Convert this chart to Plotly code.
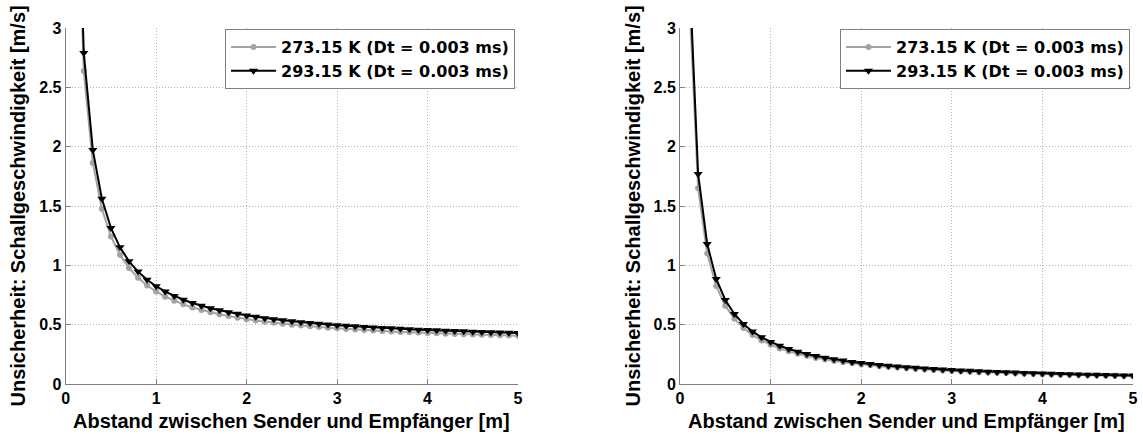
import plotly.graph_objects as go

# Distance between sender and receiver [m]
distance_m = [0.1, 0.2, 0.3, 0.4, 0.5, 0.6, 0.7, 0.8, 0.9, 1.0,
              1.1, 1.2, 1.3, 1.4, 1.5, 1.6, 1.7, 1.8, 1.9, 2.0,
              2.1, 2.2, 2.3, 2.4, 2.5, 2.6, 2.7, 2.8, 2.9, 3.0,
              3.1, 3.2, 3.3, 3.4, 3.5, 3.6, 3.7, 3.8, 3.9, 4.0,
              4.1, 4.2, 4.3, 4.4, 4.5, 4.6, 4.7, 4.8, 4.9, 5.0]

# Left panel
left_273 = [4.960, 2.637, 1.863, 1.475, 1.243, 1.089, 0.977, 0.895, 0.830, 0.779,
            0.736, 0.701, 0.671, 0.645, 0.624, 0.604, 0.587, 0.572, 0.558, 0.546,
            0.535, 0.524, 0.516, 0.507, 0.500, 0.492, 0.486, 0.480, 0.474, 0.469,
            0.464, 0.459, 0.455, 0.451, 0.446, 0.443, 0.439, 0.436, 0.433, 0.430,
            0.427, 0.424, 0.421, 0.420, 0.417, 0.415, 0.413, 0.410, 0.408, 0.406]
left_293 = [5.249, 2.790, 1.971, 1.561, 1.315, 1.152, 1.034, 0.947, 0.878, 0.824,
            0.779, 0.742, 0.710, 0.683, 0.660, 0.639, 0.621, 0.605, 0.591, 0.578,
            0.566, 0.555, 0.546, 0.537, 0.529, 0.521, 0.514, 0.508, 0.502, 0.496,
            0.491, 0.486, 0.481, 0.477, 0.472, 0.469, 0.465, 0.461, 0.458, 0.455,
            0.452, 0.449, 0.446, 0.444, 0.441, 0.439, 0.437, 0.434, 0.432, 0.430]

# Right panel
right_273 = [3.300, 1.650, 1.100, 0.825, 0.660, 0.550, 0.471, 0.413, 0.367, 0.330,
             0.300, 0.275, 0.254, 0.236, 0.220, 0.206, 0.194, 0.183, 0.174, 0.165,
             0.157, 0.150, 0.143, 0.138, 0.132, 0.127, 0.122, 0.118, 0.114, 0.110,
             0.106, 0.103, 0.100, 0.097, 0.094, 0.092, 0.089, 0.087, 0.085, 0.083,
             0.080, 0.079, 0.077, 0.075, 0.073, 0.072, 0.070, 0.069, 0.067, 0.066]
right_293 = [3.540, 1.770, 1.180, 0.885, 0.708, 0.590, 0.506, 0.443, 0.393, 0.354,
             0.322, 0.295, 0.272, 0.253, 0.236, 0.221, 0.208, 0.197, 0.186, 0.177,
             0.169, 0.161, 0.154, 0.148, 0.142, 0.136, 0.131, 0.126, 0.122, 0.118,
             0.114, 0.111, 0.107, 0.104, 0.101, 0.098, 0.096, 0.093, 0.091, 0.089,
             0.086, 0.084, 0.082, 0.080, 0.079, 0.077, 0.075, 0.074, 0.072, 0.071]

name_273 = "273.15 K (Dt = 0.003 ms)"
name_293 = "293.15 K (Dt = 0.003 ms)"
x_title = "Abstand zwischen Sender und Empfänger [m]"
y_title = "Unsicherheit: Schallgeschwindigkeit [m/s]"

x_ticks = [0, 1, 2, 3, 4, 5]
x_ticklabels = ["0", "1", "2", "3", "4", "5"]
y_ticks = [0, 0.5, 1, 1.5, 2, 2.5, 3]
y_ticklabels = ["0", "0.5", "1", "1.5", "2", "2.5", "3"]

W, H = 1143, 434
FONT = "Liberation Sans, Arial, Helvetica, sans-serif"
LEG_FONT = "DejaVu Sans, Liberation Sans, Arial, sans-serif"
GRAY = "#a3a3a3"

fig = go.Figure()


def add_pair(y273, y293, xa, ya, legend):
    fig.add_trace(go.Scatter(
        x=distance_m, y=y273, name=name_273, mode="lines+markers",
        line=dict(color=GRAY, width=2),
        marker=dict(symbol="circle", size=6, color=GRAY),
        xaxis=xa, yaxis=ya, legend=legend))
    fig.add_trace(go.Scatter(
        x=distance_m, y=y293, name=name_293, mode="lines+markers",
        line=dict(color="black", width=2),
        marker=dict(symbol="triangle-down", size=8, color="black"),
        xaxis=xa, yaxis=ya, legend=legend))


add_pair(left_273, left_293, "x", "y", "legend")
add_pair(right_273, right_293, "x2", "y2", "legend2")

y_dom = [(H - 384) / H, (H - 28) / H]
left_dom = [65.7 / W, 518 / W]
right_dom = [680 / W, 1133 / W]

axis_common = dict(
    showline=True, linecolor="#808080", linewidth=1,
    ticks="inside", ticklen=5, tickcolor="#808080",
    showgrid=True, gridcolor="#b4b4b4", griddash="1px,2px", gridwidth=1,
    zeroline=False, mirror=False, automargin=False,
    tickfont=dict(family=FONT, size=16, color="black", weight="bold"),
)

xax = dict(axis_common, range=[0, 5], tickvals=x_ticks,
           ticktext=["<b>%s</b>" % t for t in x_ticklabels])
yax = dict(axis_common, range=[0, 3], tickvals=y_ticks,
           ticktext=["<b>%s</b>" % t for t in y_ticklabels])

legend_common = dict(
    bgcolor="white", bordercolor="#808080", borderwidth=1,
    font=dict(family=LEG_FONT, size=16, color="black", weight="bold"),
    xanchor="right", yanchor="top", tracegroupgap=0, itemwidth=45,
)

fig.update_layout(
    width=W, height=H,
    margin=dict(l=0, r=0, t=0, b=0),
    paper_bgcolor="white", plot_bgcolor="white",
    template=None,
    xaxis=dict(xax, domain=left_dom, anchor="y"),
    yaxis=dict(yax, domain=y_dom, anchor="x"),
    xaxis2=dict(xax, domain=right_dom, anchor="y2"),
    yaxis2=dict(yax, domain=y_dom, anchor="x2"),
    legend=dict(legend_common, x=515 / W, y=(H - 29) / H),
    legend2=dict(legend_common, x=1130 / W, y=(H - 29) / H),
    showlegend=True,
)

title_font = dict(family=FONT, size=20, color="black", weight="bold")
for dom, ytx in ((left_dom, 17.5), (right_dom, 632.5)):
    fig.add_annotation(
        text="<b>%s</b>" % x_title, xref="paper", yref="paper",
        x=(dom[0] + dom[1]) / 2, y=(H - 421) / H,
        xanchor="center", yanchor="middle", showarrow=False, font=title_font)
    fig.add_annotation(
        text="<b>%s</b>" % y_title, xref="paper", yref="paper",
        x=ytx / W, y=(H - 206) / H, textangle=-90,
        xanchor="center", yanchor="middle", showarrow=False, font=title_font)

fig.write_html("out.html")
